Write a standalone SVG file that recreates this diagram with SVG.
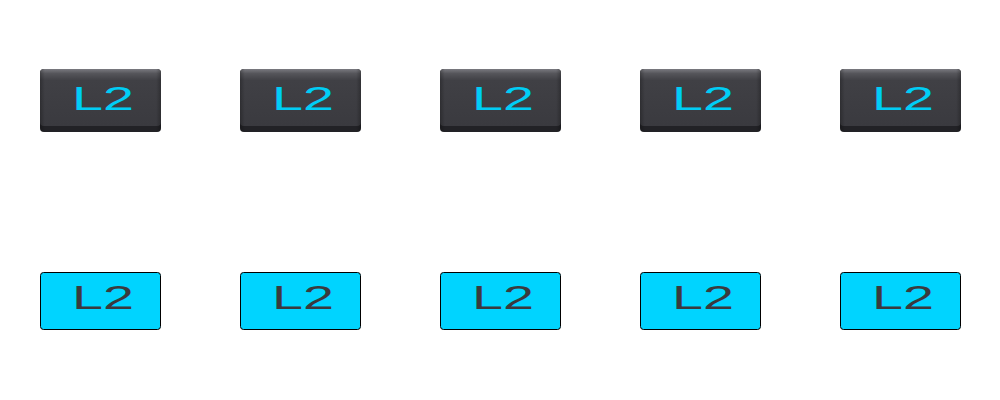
<svg xmlns="http://www.w3.org/2000/svg" width="1000" height="400" viewBox="0 0 1000 400">
<defs>
<linearGradient id="face" x1="0" y1="0" x2="0" y2="1">
<stop offset="0" stop-color="#7a7a80"/>
<stop offset="0.08" stop-color="#55555a"/>
<stop offset="0.2" stop-color="#404045"/>
<stop offset="1" stop-color="#3a3a3f"/>
</linearGradient>
<linearGradient id="side" x1="0" y1="0" x2="1" y2="0">
<stop offset="0" stop-color="#000" stop-opacity="0.25"/>
<stop offset="0.04" stop-color="#000" stop-opacity="0"/>
<stop offset="0.96" stop-color="#000" stop-opacity="0"/>
<stop offset="1" stop-color="#000" stop-opacity="0.25"/>
</linearGradient>
<style>
.base{fill:#222226;}
.face{fill:url(#face);}
.side{fill:url(#side);}
.lt{fill:#00d4ff;stroke:#000;stroke-width:1;}
.t1{font-family:"Liberation Sans",Arial,sans-serif;font-size:34px;fill:#00cdf5;}
.t2{font-family:"Liberation Sans",Arial,sans-serif;font-size:34px;fill:#3a3a3e;}
</style>
</defs>
<g id="d1"><rect class="base" x="40" y="69" width="121" height="63" rx="4"/><rect class="face" x="40" y="69" width="121" height="57" rx="4"/><rect class="side" x="40" y="69" width="121" height="63" rx="4"/><text class="t1" x="72" y="109.5" textLength="62" lengthAdjust="spacingAndGlyphs">L2</text></g>
<g id="d2"><rect class="base" x="240" y="69" width="121" height="63" rx="4"/><rect class="face" x="240" y="69" width="121" height="57" rx="4"/><rect class="side" x="240" y="69" width="121" height="63" rx="4"/><text class="t1" x="272" y="109.5" textLength="62" lengthAdjust="spacingAndGlyphs">L2</text></g>
<g id="d3"><rect class="base" x="440" y="69" width="121" height="63" rx="4"/><rect class="face" x="440" y="69" width="121" height="57" rx="4"/><rect class="side" x="440" y="69" width="121" height="63" rx="4"/><text class="t1" x="472" y="109.5" textLength="62" lengthAdjust="spacingAndGlyphs">L2</text></g>
<g id="d4"><rect class="base" x="640" y="69" width="121" height="63" rx="4"/><rect class="face" x="640" y="69" width="121" height="57" rx="4"/><rect class="side" x="640" y="69" width="121" height="63" rx="4"/><text class="t1" x="672" y="109.5" textLength="62" lengthAdjust="spacingAndGlyphs">L2</text></g>
<g id="d5"><rect class="base" x="840" y="69" width="121" height="63" rx="4"/><rect class="face" x="840" y="69" width="121" height="57" rx="4"/><rect class="side" x="840" y="69" width="121" height="63" rx="4"/><text class="t1" x="872" y="109.5" textLength="62" lengthAdjust="spacingAndGlyphs">L2</text></g>
<g id="l1"><rect class="lt" x="40.5" y="272.5" width="120" height="57" rx="3"/><text class="t2" x="72" y="309" textLength="62" lengthAdjust="spacingAndGlyphs">L2</text></g>
<g id="l2"><rect class="lt" x="240.5" y="272.5" width="120" height="57" rx="3"/><text class="t2" x="272" y="309" textLength="62" lengthAdjust="spacingAndGlyphs">L2</text></g>
<g id="l3"><rect class="lt" x="440.5" y="272.5" width="120" height="57" rx="3"/><text class="t2" x="472" y="309" textLength="62" lengthAdjust="spacingAndGlyphs">L2</text></g>
<g id="l4"><rect class="lt" x="640.5" y="272.5" width="120" height="57" rx="3"/><text class="t2" x="672" y="309" textLength="62" lengthAdjust="spacingAndGlyphs">L2</text></g>
<g id="l5"><rect class="lt" x="840.5" y="272.5" width="120" height="57" rx="3"/><text class="t2" x="872" y="309" textLength="62" lengthAdjust="spacingAndGlyphs">L2</text></g>
<g id="connectors"/>
</svg>
